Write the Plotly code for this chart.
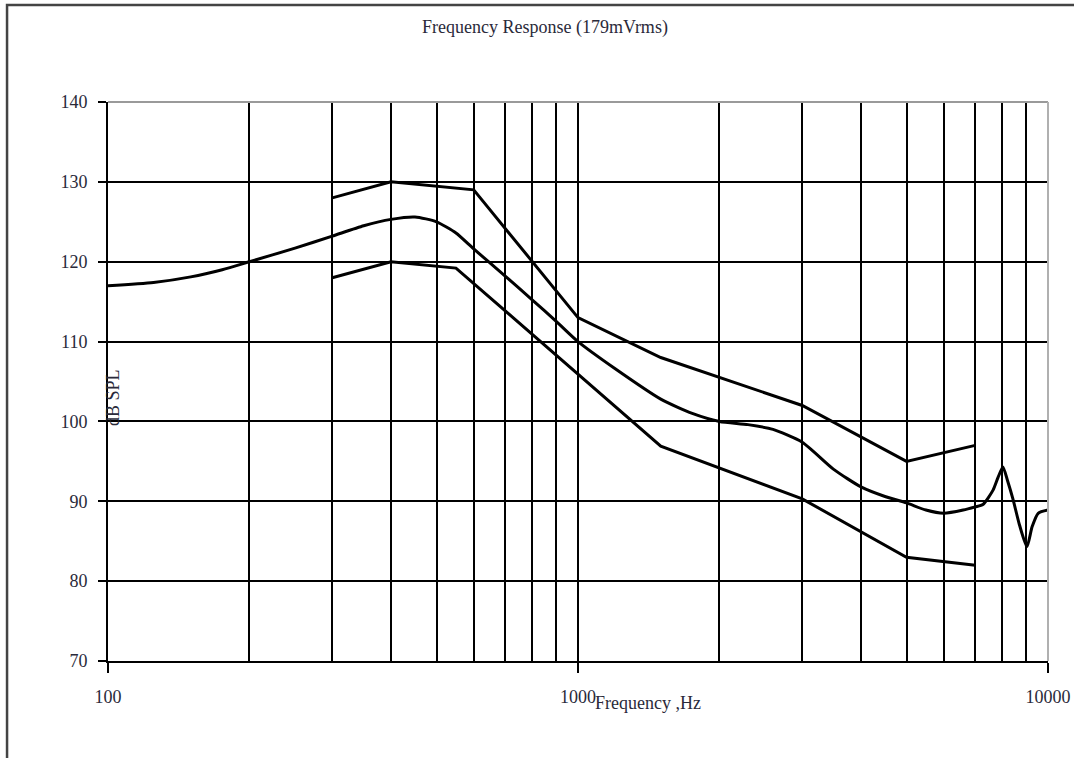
import plotly.graph_objects as go

# ---- data ----
nominal_freq = [100, 125, 150, 175, 200, 250, 300, 350, 400, 450, 500, 550, 600, 700, 800, 900,
                1000, 1200, 1500, 1750, 2000, 2300, 2600, 3000, 3500, 4000, 4500, 5000, 5500,
                6000, 6600, 7000, 7270, 7640, 7830, 8020, 8200, 8420, 8700, 9020, 9250, 9530, 10000]
nominal_db = [117.0, 117.4, 118.1, 119.0, 120.0, 121.7, 123.2, 124.5, 125.3, 125.6, 125.0, 123.6,
              121.6, 118.2, 115.2, 112.5, 110.0, 106.6, 102.8, 101.0, 100.0, 99.6, 99.0, 97.4,
              94.0, 91.8, 90.6, 89.8, 88.9, 88.5, 88.9, 89.3, 89.6, 91.4, 93.0, 94.3, 92.6,
              90.3, 87.0, 84.3, 86.8, 88.5, 88.9]

upper_freq = [300, 400, 600, 1000, 1500, 3000, 5000, 7000]
upper_db = [128, 130, 129, 113, 108, 102, 95, 97]

lower_freq = [300, 400, 550, 1500, 3000, 5000, 7000]
lower_db = [118, 120, 119.2, 96.9, 90.3, 83, 82]

x_major = [100, 1000, 10000]
x_major_text = ["100", "1000", "10000"]
x_minor = [200, 300, 400, 500, 600, 700, 800, 900,
           2000, 3000, 4000, 5000, 6000, 7000, 8000, 9000]
y_ticks = [70, 80, 90, 100, 110, 120, 130, 140]

FONT = "Liberation Serif"
TXT = "#2a2a3a"

fig = go.Figure()
line_style = dict(color="black", width=3)
fig.add_trace(go.Scatter(x=upper_freq, y=upper_db, mode="lines", line=line_style, hoverinfo="skip"))
fig.add_trace(go.Scatter(x=nominal_freq, y=nominal_db, mode="lines",
                         line=dict(color="black", width=3, shape="spline", smoothing=0.6),
                         hoverinfo="skip"))
fig.add_trace(go.Scatter(x=lower_freq, y=lower_db, mode="lines", line=line_style, hoverinfo="skip"))

fig.update_layout(
    width=1074, height=758,
    margin=dict(l=108, r=26, t=102, b=97, autoexpand=False),
    paper_bgcolor="white", plot_bgcolor="white",
    showlegend=False,
    font=dict(family=FONT, size=18, color=TXT),
)

fig.update_xaxes(
    type="log", range=[2, 4], automargin=False,
    tickmode="array", tickvals=x_major, ticktext=x_major_text,
    ticks="outside", ticklen=10, tickwidth=2, tickcolor="black",
    showgrid=True, gridcolor="black", gridwidth=2,
    showline=True, linecolor="black", linewidth=2,
    ticklabelstandoff=8,
    minor=dict(tickmode="array", tickvals=x_minor, showgrid=True,
               gridcolor="black", gridwidth=2, ticks=""),
    zeroline=False,
    tickfont=dict(family=FONT, size=18, color=TXT),
)
fig.update_yaxes(
    range=[70, 140], automargin=False,
    tickmode="array", tickvals=y_ticks,
    ticks="outside", ticklen=8, tickwidth=2, tickcolor="black",
    showgrid=True, gridcolor="black", gridwidth=2,
    showline=True, linecolor="black", linewidth=2,
    ticklabelstandoff=7,
    zeroline=False,
    tickfont=dict(family=FONT, size=18, color=TXT),
)

# plot-area top / right frame in gray, outer figure frame
fig.add_shape(type="line", xref="paper", yref="paper", x0=0, x1=1, y0=1, y1=1,
              line=dict(color="#9a9a9a", width=2), layer="above")
fig.add_shape(type="line", xref="paper", yref="paper", x0=1, x1=1, y0=0, y1=1,
              line=dict(color="#b0b0b0", width=2), layer="above")
fig.add_shape(type="rect", xref="paper", yref="paper", x0=-0.1074, x1=1.1, y0=-0.3, y1=1.1735,
              line=dict(color="#444444", width=2.5), fillcolor="rgba(0,0,0,0)", layer="above")

fig.add_annotation(text="Frequency Response (179mVrms)", xref="paper", yref="paper",
                   x=0.4649, y=1.1324, showarrow=False, xanchor="center", yanchor="middle",
                   font=dict(family=FONT, size=18, color=TXT))
fig.add_annotation(text="Frequency ,Hz", xref="paper", yref="paper",
                   x=0.5745, y=-0.0751, showarrow=False, xanchor="center", yanchor="middle",
                   font=dict(family=FONT, size=18, color=TXT))
fig.add_annotation(text="dB SPL", xref="paper", yref="paper",
                   x=0.0053, y=0.4723, showarrow=False, xanchor="center", yanchor="middle",
                   textangle=-90, font=dict(family=FONT, size=18, color=TXT))

fig.write_html("out.html",
               config={"displayModeBar": False, "staticPlot": True},
               post_script="document.body.style.margin='0';document.body.style.overflow='hidden';")
